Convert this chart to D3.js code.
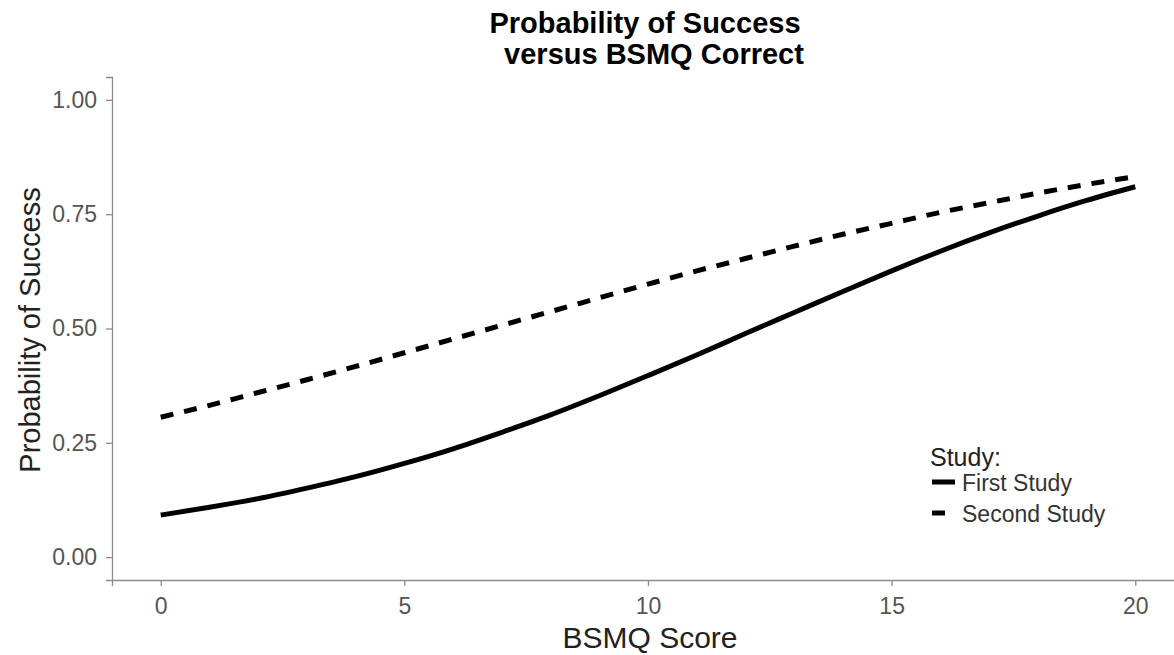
<!DOCTYPE html>
<html>
<head>
<meta charset="utf-8">
<script src="https://cdn.jsdelivr.net/npm/d3@7"></script>
<style>
  body { margin: 0; background: #fff; }
  svg { display: block; font-family: "Liberation Sans", Arial, sans-serif; }
  .axis path, .axis line { stroke: #8c8c8c; stroke-width: 1.3px; }
  .axis text { fill: #555; font-size: 23px; }
</style>
</head>
<body>
<svg id="chart"></svg>
<script>
// values, one per BSMQ score 0..20
const scores = d3.range(0, 21);
const firstStudy = [0.092, 0.109, 0.128, 0.151, 0.176, 0.205, 0.237, 0.273, 0.311, 0.353, 0.397,
                    0.442, 0.489, 0.535, 0.581, 0.626, 0.669, 0.709, 0.746, 0.780, 0.810];
const secondStudy = [0.306, 0.332, 0.360, 0.388, 0.417, 0.447, 0.477, 0.507, 0.537, 0.567, 0.597,
                     0.626, 0.653, 0.680, 0.706, 0.730, 0.754, 0.775, 0.796, 0.815, 0.832];
const xTicks = [0, 5, 10, 15, 20];
const yTicks = [0, 0.25, 0.5, 0.75, 1];
const seriesNames = ["First Study", "Second Study"];

const W = 1174, H = 655;
const M = { left: 112, right: -10, top: 77, bottom: 75 };

const svg = d3.select("#chart").attr("width", W).attr("height", H);

/* Scales (ggplot style 5% expansion) */
const x = d3.scaleLinear().domain([-1, 21]).range([M.left, W - M.right]);
const y = d3.scaleLinear().domain([-0.05, 1.05]).range([H - M.bottom, M.top]);

/* Axes */
svg.append("g")
  .attr("class", "axis")
  .attr("transform", `translate(0, ${H - M.bottom})`)
  .call(d3.axisBottom(x).tickValues(xTicks).tickSizeOuter(0).tickSize(6).tickPadding(12));

svg.append("g")
  .attr("class", "axis")
  .attr("transform", `translate(${M.left}, 0)`)
  .call(d3.axisLeft(y).tickValues(yTicks).tickFormat(d3.format(".2f")).tickSizeOuter(0).tickSize(6).tickPadding(9));

/* Lines */
const series = [
  { name: seriesNames[0], values: firstStudy, dash: null },
  { name: seriesNames[1], values: secondStudy, dash: "13,11" }
];

const line = d3.line()
  .x((d, i) => x(scores[i]))
  .y(d => y(d))
  .curve(d3.curveMonotoneX);

svg.append("g").selectAll("path")
  .data(series).enter()
  .append("path")
  .attr("d", d => line(d.values))
  .attr("fill", "none")
  .attr("stroke", "#000")
  .attr("stroke-width", 5)
  .attr("stroke-dasharray", d => d.dash);

/* Titles */
svg.append("text")
  .attr("x", 645).attr("y", 33)
  .attr("text-anchor", "middle")
  .attr("font-size", 29).attr("font-weight", "bold")
  .text("Probability of Success");
svg.append("text")
  .attr("x", 654).attr("y", 64)
  .attr("text-anchor", "middle")
  .attr("font-size", 29).attr("font-weight", "bold")
  .text("versus BSMQ Correct");

svg.append("text")
  .attr("x", 650).attr("y", 648)
  .attr("text-anchor", "middle")
  .attr("font-size", 30).attr("fill", "#222")
  .text("BSMQ Score");

svg.append("text")
  .attr("transform", `translate(40, 330) rotate(-90)`)
  .attr("text-anchor", "middle")
  .attr("font-size", 29).attr("fill", "#222")
  .text("Probability of Success");

/* Legend */
const legend = svg.append("g").attr("transform", "translate(930, 0)");
legend.append("text")
  .attr("x", 0).attr("y", 466)
  .attr("font-size", 25).attr("fill", "#222")
  .text("Study:");

const keys = legend.selectAll(".key")
  .data(series).enter()
  .append("g")
  .attr("class", "key")
  .attr("transform", (d, i) => `translate(0, ${482 + i * 31})`);

keys.append("line")
  .attr("x1", 2).attr("x2", d => d.dash ? 15 : 25)
  .attr("y1", 0).attr("y2", 0)
  .attr("stroke", "#000").attr("stroke-width", 5);

keys.append("text")
  .attr("x", 32).attr("y", 9)
  .attr("font-size", 23).attr("fill", "#333")
  .text(d => d.name);
</script>
</body>
</html>
